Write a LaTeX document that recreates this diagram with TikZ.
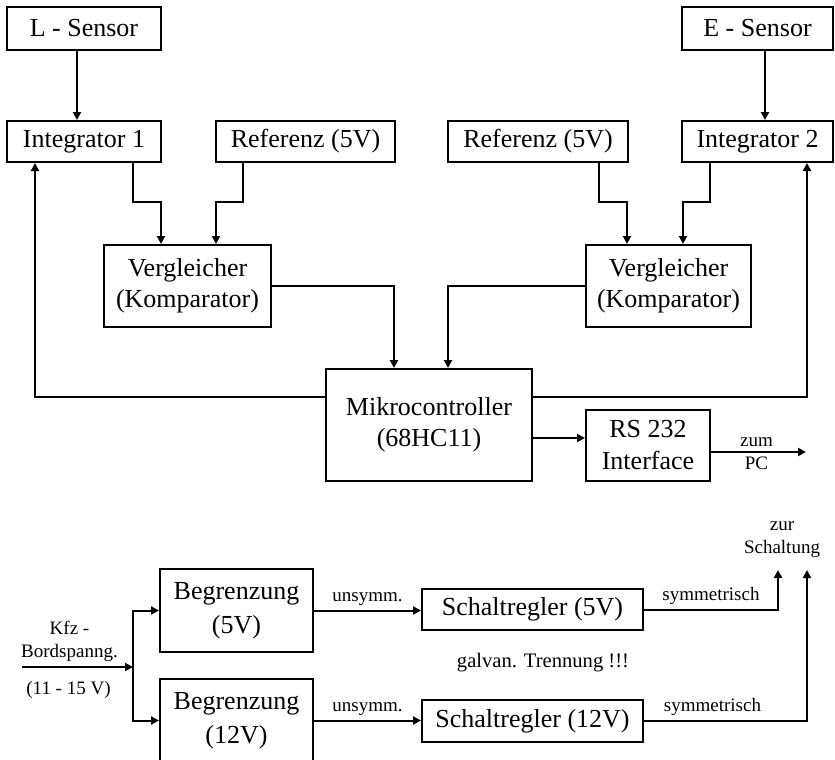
\documentclass[tikz,border=0pt]{standalone}
\usepackage{fontspec}
\setmainfont{Liberation Serif}
\usetikzlibrary{arrows.meta, positioning}

\begin{document}
\begin{tikzpicture}[x=0.5pt, y=-0.5pt, line width=1pt,
		>={Triangle[length=4pt, width=4pt]},
		block/.style={draw, inner sep=0pt, align=center, font=\fontsize{13}{15.5}\selectfont},
		small/.style={font=\fontsize{9.5}{11.5}\selectfont, inner sep=2pt, align=center}]
		\useasboundingbox (0,0) rectangle (835,760);

		% Messkanaele
		\node [block, minimum width=77pt, minimum height=20.5pt] (integ1) at (84,141.5) {Integrator 1};
		\node [block, minimum width=77pt, minimum height=21.5pt, above = 34.5pt of integ1] (lSensor) {L - Sensor};
		\node [block, minimum width=89.5pt, minimum height=20.5pt] (ref1) at (305.5,141.5) {Referenz (5V)};
		\node [block, minimum width=90pt, minimum height=20.5pt] (ref2) at (538,141.5) {Referenz (5V)};
		\node [block, minimum width=75.5pt, minimum height=20.5pt] (integ2) at (757.5,141.5) {Integrator 2};
		\node [block, minimum width=75.5pt, minimum height=21.5pt, above = 34.5pt of integ2] (eSensor) {E - Sensor};
		\node [block, minimum width=83.5pt, minimum height=41pt] (vgl1) at (187.5,286) {Vergleicher\\(Komparator)};
		\node [block, minimum width=82.5pt, minimum height=41pt] (vgl2) at (668.5,286) {Vergleicher\\(Komparator)};
		\node [block, minimum width=103pt, minimum height=56pt] (mc) at (429,425) {Mikrocontroller\\(68HC11)};
		\node [block, minimum width=62pt, minimum height=35.5pt, font=\fontsize{13}{16}\selectfont] (rs) at (648,445.5) {RS 232\\Interface};

		\draw [->] ([xshift=-3.5pt]lSensor.south) -- ([xshift=-3.5pt]integ1.north);
		\draw [->] ([xshift=3.75pt]eSensor.south) -- ([xshift=3.75pt]integ2.north);

		\draw [->] ([xshift=24.5pt]integ1.south) |- ([xshift=-13.25pt, yshift=21pt]vgl1.north) -- ([xshift=-13.25pt]vgl1.north);
		\draw [->] ([xshift=-31.25pt]ref1.south) |- ([xshift=14.25pt, yshift=21pt]vgl1.north) -- ([xshift=14.25pt]vgl1.north);
		\draw [->] ([xshift=30.5pt]ref2.south) |- ([xshift=-20.75pt, yshift=21pt]vgl2.north) -- ([xshift=-20.75pt]vgl2.north);
		\draw [->] ([xshift=-23.75pt]integ2.south) |- ([xshift=7.25pt, yshift=21pt]vgl2.north) -- ([xshift=7.25pt]vgl2.north);

		\draw [->] (vgl1.east) -| ([xshift=-17.5pt]mc.north);
		\draw [->] (vgl2.west) -| ([xshift=9.5pt]mc.north);
		\draw [->] ([yshift=14pt]mc.west) -| ([xshift=-24.5pt]integ1.south);
		\draw [->] ([yshift=14pt]mc.east) -| ([xshift=24.75pt]integ2.south);

		\coordinate (mcOut) at ([yshift=-6.5pt]mc.east);
		\draw [->] (mcOut) -- (mcOut -| rs.west);
		\coordinate (rsOut) at ([yshift=-3.25pt]rs.east);
		\coordinate (pc) at (806,452);
		\draw [->] (rsOut) -- node[small, above, xshift=-1pt]{zum} node[small, below, xshift=-1pt]{PC} (pc);

		% Stromversorgung
		\node [block, minimum width=76.5pt, minimum height=41.5pt, font=\fontsize{13}{17}\selectfont] (begr5) at (236.5,610.5) {Begrenzung\\(5V)};
		\node [block, minimum width=76.5pt, minimum height=41.5pt, font=\fontsize{13}{17}\selectfont] (begr12) at (236.5,720.5) {Begrenzung\\(12V)};
		\node [block, minimum width=110.5pt, minimum height=20.5pt] (sr5) at (532.5,609.5) {Schaltregler (5V)};
		\node [block, minimum width=110.5pt, minimum height=21pt] (sr12) at (532.5,721) {Schaltregler (12V)};

		\coordinate (kfz) at (22,667);
		\coordinate (split) at (133,667);
		\draw [->] (kfz) -- node[small, above, xshift=-4pt]{Kfz -\\Bordspanng.} node[small, below, xshift=-4.5pt, yshift=-4.5pt]{(11 - 15 V)} (split);
		\draw [->] (split) |- (begr5.west);
		\draw [->] (split) |- (begr12.west);

		\draw [->] (begr5.east) -- node[small, above]{unsymm.} (begr5.east -| sr5.west);
		\draw [->] (begr12.east) -- node[small, above]{unsymm.} (begr12.east -| sr12.west);

		\coordinate (out5) at (778,570);
		\coordinate (out12) at (807,570);
		\draw [->] (sr5.east) -| node[small, above, pos=0.25]{symmetrisch} (out5);
		\draw [->] (sr12.east) -| node[small, above, pos=0.21]{symmetrisch} (out12);
		\node [small] (zur) at (782,540) {zur\\Schaltung};

		\node [font=\fontsize{10.3}{12}\selectfont] (trennung) at (543,663) {galvan. Trennung !!!};
	\end{tikzpicture}
\end{document}
